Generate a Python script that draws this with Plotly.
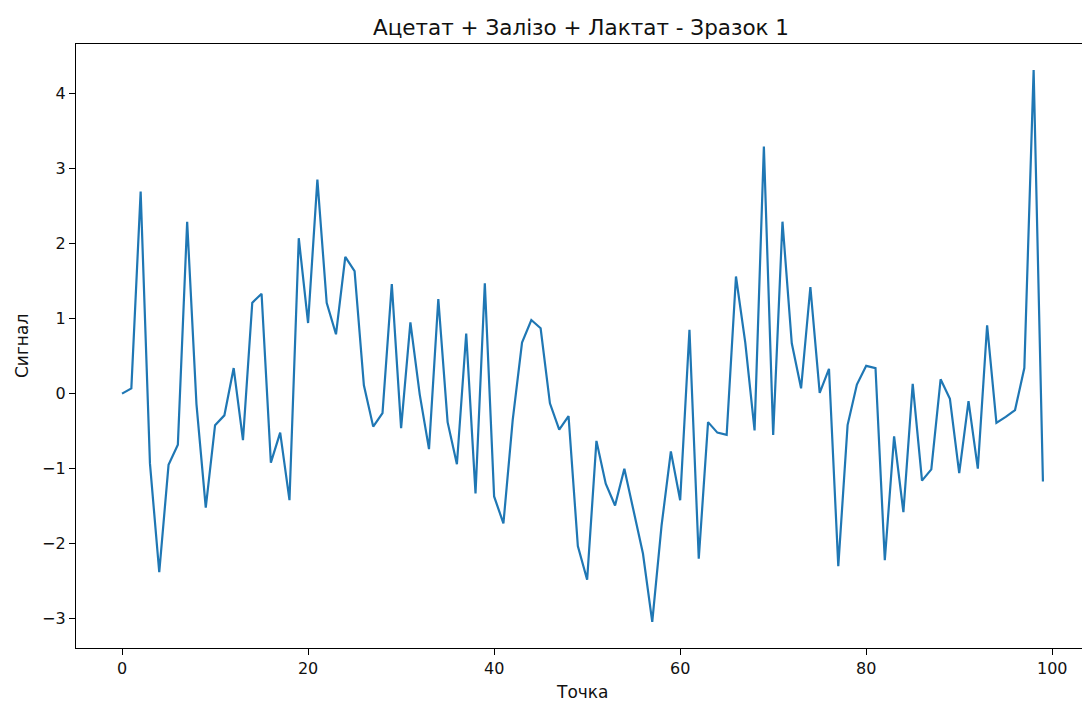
import plotly.graph_objects as go

points = list(range(100))
signal = [
    0.00, 0.07, 2.69, -0.93, -2.38, -0.95, -0.68, 2.29, -0.14, -1.52,
    -0.42, -0.29, 0.34, -0.62, 1.21, 1.33, -0.92, -0.52, -1.42, 2.07,
    0.94, 2.85, 1.21, 0.79, 1.82, 1.63, 0.11, -0.44, -0.26, 1.46,
    -0.46, 0.95, -0.01, -0.74, 1.26, -0.38, -0.94, 0.80, -1.33, 1.47,
    -1.37, -1.73, -0.35, 0.68, 0.98, 0.87, -0.13, -0.48, -0.30, -2.03,
    -2.48, -0.63, -1.20, -1.49, -1.00, -1.57, -2.13, -3.04, -1.76, -0.77,
    -1.42, 0.85, -2.20, -0.38, -0.52, -0.55, 1.56, 0.68, -0.49, 3.29,
    -0.55, 2.29, 0.67, 0.07, 1.42, 0.01, 0.33, -2.30, -0.42, 0.12,
    0.37, 0.34, -2.22, -0.57, -1.58, 0.13, -1.16, -1.01, 0.19, -0.07,
    -1.06, -0.10, -1.00, 0.91, -0.39, -0.31, -0.22, 0.34, 4.31, -1.17,
]

x_ticks = [0, 20, 40, 60, 80, 100]
y_ticks = [-3, -2, -1, 0, 1, 2, 3, 4]
y_tick_text = [("\u2212" + str(-v)) if v < 0 else str(v) for v in y_ticks]

title_text = "Ацетат + Залізо + Лактат - Зразок 1"
x_title = "Точка"
y_title = "Сигнал"

font_family = "DejaVu Sans"

fig = go.Figure()
fig.add_trace(go.Scatter(
    x=points, y=signal, mode="lines",
    line=dict(color="#1f77b4", width=2.2),
    showlegend=False,
))

fig.update_layout(
    width=1082, height=704,
    margin=dict(l=76, r=0, t=44, b=56),
    paper_bgcolor="white", plot_bgcolor="white",
    font=dict(family=font_family, size=16, color="black"),
    title=dict(
        text=title_text, x=(581 - 76) / 1006, xref="paper", xanchor="center",
        y=1 - 27 / 704, yref="container", yanchor="middle",
        font=dict(family=font_family, size=21.5, color="#111111"),
    ),
    xaxis=dict(
        range=[-4.95, 103.2], tickvals=x_ticks,
        ticktext=[str(v) for v in x_ticks],
        showgrid=False, zeroline=False,
        showline=True, linecolor="black", linewidth=1.2, mirror=True,
        ticks="outside", ticklen=6, tickwidth=1.2, tickcolor="black",
        tickfont=dict(family=font_family, size=16, color="#111111"),
    ),
    yaxis=dict(
        range=[-3.389, 4.657], tickvals=y_ticks, ticktext=y_tick_text,
        showgrid=False, zeroline=False,
        showline=True, linecolor="black", linewidth=1.2,
        ticks="outside", ticklen=6, tickwidth=1.2, tickcolor="black",
        tickfont=dict(family=font_family, size=16, color="#111111"),
    ),
    annotations=[
        dict(text=x_title, xref="paper", x=(582 - 76) / 1006, yref="paper",
             y=-(692 - 648) / 604, xanchor="center", yanchor="middle",
             showarrow=False, font=dict(family=font_family, size=17, color="#111111")),
        dict(text=y_title, xref="paper", x=-(76 - 22) / 1006, yref="paper",
             y=0.5, xanchor="center", yanchor="middle", textangle=-90,
             showarrow=False, font=dict(family=font_family, size=17, color="#111111")),
    ],
)

fig.write_html("out.html")
